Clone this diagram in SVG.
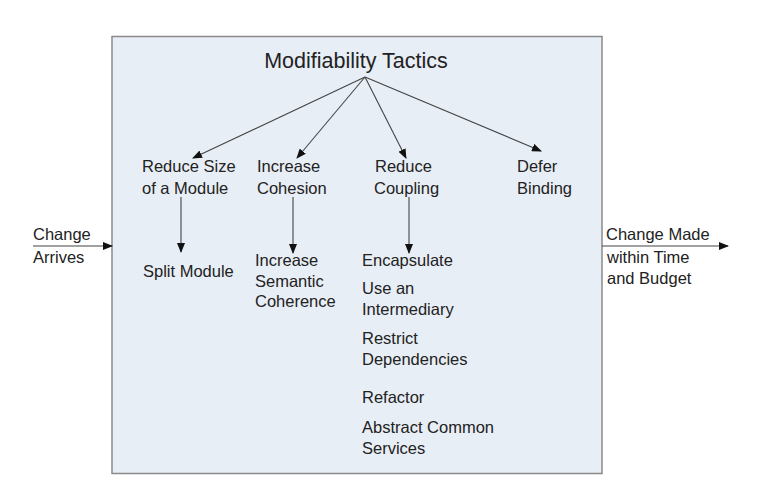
<svg xmlns="http://www.w3.org/2000/svg" width="768" height="496" viewBox="0 0 768 496">
<style>
text{font-family:"Liberation Sans",Arial,sans-serif;font-size:16.5px;fill:#222}
.title{font-size:21.5px}
.c{stroke:#444;stroke-width:1.1;fill:none;marker-end:url(#ah)}
</style>
<defs>
<marker id="ah" markerWidth="10" markerHeight="8" refX="9" refY="4" orient="auto" markerUnits="userSpaceOnUse">
<path d="M0,0 L10,4 L0,8 z" fill="#111"/>
</marker>
</defs>
<rect width="768" height="496" fill="#fff"/>
<g id="frame"><rect x="112" y="36.5" width="490" height="437" fill="#e8eef6" stroke="#8a8a8a" stroke-width="1.5"/></g>
<g id="root"><text class="title" x="356" y="68" text-anchor="middle">Modifiability Tactics</text></g>
<g id="reduce-size"><text x="142" y="172">Reduce Size</text><text x="142" y="194">of a Module</text></g>
<g id="increase-cohesion"><text x="257" y="172">Increase</text><text x="257" y="194">Cohesion</text></g>
<g id="reduce-coupling"><text x="375" y="172">Reduce</text><text x="374" y="194">Coupling</text></g>
<g id="defer-binding"><text x="517" y="172">Defer</text><text x="517" y="194">Binding</text></g>
<g id="split-module"><text x="143" y="277">Split Module</text></g>
<g id="semantic-coherence"><text x="255" y="266">Increase</text><text x="255" y="287">Semantic</text><text x="255" y="307">Coherence</text></g>
<g id="coupling-tactics">
<text x="362" y="266">Encapsulate</text>
<text x="362" y="294">Use an</text><text x="362" y="315">Intermediary</text>
<text x="362" y="344">Restrict</text><text x="362" y="365">Dependencies</text>
<text x="362" y="403">Refactor</text>
<text x="362" y="433">Abstract Common</text><text x="362" y="454">Services</text>
</g>
<g id="change-arrives"><text x="33" y="240">Change</text><text x="33" y="263">Arrives</text></g>
<g id="change-made"><text x="606" y="240">Change Made</text><text x="607" y="263">within Time</text><text x="607" y="284">and Budget</text></g>
<g id="connectors">
<line class="c" x1="365" y1="77" x2="193" y2="158"/>
<line class="c" x1="365" y1="77" x2="297" y2="158"/>
<line class="c" x1="365" y1="77" x2="406" y2="158"/>
<line class="c" x1="365" y1="77" x2="541" y2="151"/>
<line class="c" x1="181" y1="197" x2="181" y2="252"/>
<line class="c" x1="293" y1="197" x2="293" y2="253"/>
<line class="c" x1="409" y1="197" x2="409" y2="253"/>
<line class="c" x1="33" y1="246" x2="112" y2="246"/>
<line class="c" x1="602" y1="246" x2="728" y2="246"/>
</g>
</svg>
